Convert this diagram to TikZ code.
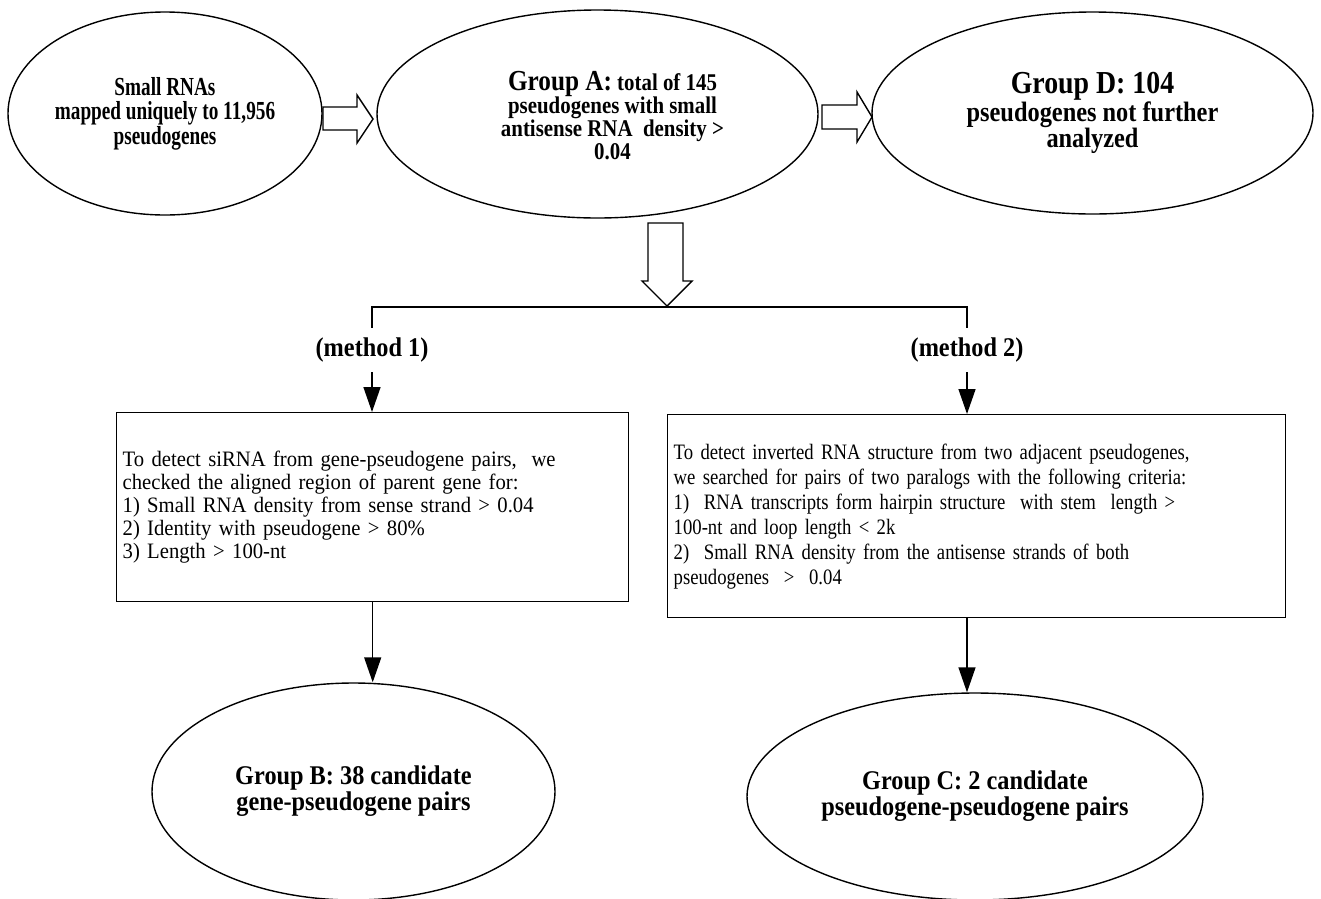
\documentclass[tikz,border=0pt]{standalone}
\usepackage{fontspec}
\setmainfont{Liberation Serif}
\newfontfamily\condA[FakeStretch=0.74]{Liberation Serif}
\newfontfamily\condC[FakeStretch=0.87]{Liberation Serif}
\newfontfamily\condB[FakeStretch=0.90]{Liberation Serif}
\newfontfamily\boxA[FakeStretch=0.94]{Liberation Serif}
\newfontfamily\boxB[FakeStretch=0.85]{Liberation Serif}
\usetikzlibrary{shapes.geometric,arrows.meta}
\begin{document}
\begin{tikzpicture}[x=1pt,y=-1pt,
  oval/.style={draw, ellipse, line width=1.4pt, inner sep=0pt, align=center},
  ovaltext/.style={align=center, inner sep=0pt},
  txtbox/.style={draw, rectangle, line width=1.4pt, inner sep=6pt, align=left, anchor=north west},
  hollow/.style={draw, line width=1.4pt, fill=white, line join=miter},
  conn/.style={line width=1.4pt, -{Triangle[length=25pt,width=17pt]}},
  plain/.style={line width=1.4pt},
  lab/.style={font=\condB\bfseries\fontsize{27}{28}\selectfont, inner xsep=2pt, inner ysep=10pt},
  smallfont/.style={font=\condA\bfseries\fontsize{26}{24.5}\selectfont},
  midfont/.style={font=\condC\bfseries\fontsize{24}{23}\selectfont},
  bigfont/.style={font=\condC\bfseries\fontsize{28}{25}\selectfont},
  botfont/.style={font=\condB\bfseries\fontsize{27}{26}\selectfont},
  boxfontA/.style={font=\boxA\fontsize{22}{23}\selectfont},
  boxfontB/.style={font=\boxB\fontsize{22}{25}\selectfont}
]
\useasboundingbox (0,0) rectangle (1321,898);

% top ellipses
\node[oval, smallfont, minimum width=314pt, minimum height=203pt] (e1) at (165,113.5)
  {Small RNAs\\mapped uniquely to 11,956\\pseudogenes};
\node[oval, minimum width=441pt, minimum height=208pt] (eA) at (597.5,114) {};
\node[ovaltext, midfont] (eAt) at ([xshift=15pt,yshift=-2pt]eA.center)
  {{\fontsize{29}{23}\selectfont Group A:} total of 145\\pseudogenes with small\\antisense RNA\ \ density >\\0.04};
\node[oval, bigfont, minimum width=441pt, minimum height=202pt] (eD) at (1092.5,113)
  {{\fontsize{32}{25}\selectfont Group D: 104}\\pseudogenes not further\\analyzed};

% hollow arrows
\draw[hollow] (323,107) -- (357,107) -- (357,95) -- (373,119) -- (357,143) -- (357,130) -- (323,130) -- cycle;
\draw[hollow] (822,105) -- (857,105) -- (857,92) -- (872,117) -- (857,142) -- (857,129) -- (822,129) -- cycle;
\draw[hollow] (648,223) -- (683,223) -- (683,281) -- (692,281) -- (667,306) -- (642,281) -- (648,281) -- cycle;

% method labels
\node[lab] (m1) at (372,350) {(method 1)};
\node[lab] (m2) at (967,350) {(method 2)};
\coordinate (split) at (667,307);
\draw[plain] (m1.north) -- (m1.north |- split) -- (m2.north |- split) -- (m2.north);

% boxes
\node[txtbox, boxfontA, minimum width=512pt, minimum height=189pt, text width=500pt] (b1) at (116,412)
  {To detect siRNA from gene-pseudogene pairs,\ \ we\\
   checked the aligned region of parent gene for:\\
   1) Small RNA density from sense strand > 0.04\\
   2) Identity with pseudogene > 80\%\\
   3) Length > 100-nt};
\node[txtbox, boxfontB, minimum width=618pt, minimum height=203pt, text width=606pt] (b2) at (667,414)
  {To detect inverted RNA structure from two adjacent pseudogenes,\\
   we searched for pairs of two paralogs with the following criteria:\\
   1)\ \ RNA transcripts form hairpin structure\ \ with stem\ \ length >\\
   100-nt and loop length < 2k\\
   2)\ \ Small RNA density from the antisense strands of both\\
   pseudogenes\ \ >\ \ 0.04};

\draw[conn] (m1.south) -- (m1.south |- b1.north);
\draw[conn] (m2.south) -- (m2.south |- b2.north);

% bottom ellipses
\node[oval, botfont, minimum width=403pt, minimum height=217pt] (eB) at (353.5,791.5)
  {Group B: 38 candidate\\gene-pseudogene pairs};
\node[oval, botfont, minimum width=456pt, minimum height=207pt] (eC) at (975,796.5)
  {Group C: 2 candidate\\pseudogene-pseudogene pairs};

\draw[conn] (b1.south) -- (b1.south |- eB.north);
\draw[conn] (m2.south |- b2.south) -- (m2.south |- eC.north);
\end{tikzpicture}
\end{document}
